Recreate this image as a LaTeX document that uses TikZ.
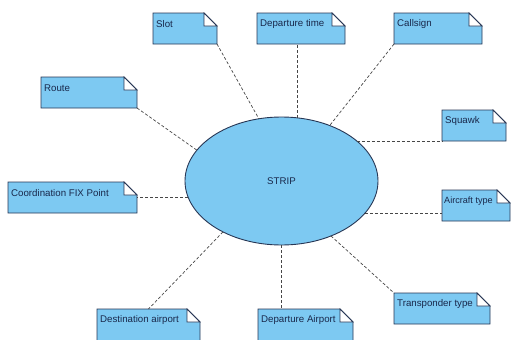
\documentclass[tikz,border=0pt]{standalone}
\usepackage{fontspec}
\setmainfont{Liberation Sans}
\usetikzlibrary{shapes.geometric,calc}
\definecolor{notefill}{RGB}{125,201,242}
\definecolor{noteline}{RGB}{40,55,85}
\definecolor{notetext}{RGB}{25,40,75}
\definecolor{linkcol}{RGB}{70,70,70}
\tikzset{
  notebox/.style={anchor=north west, inner sep=0pt, outer sep=0pt, minimum width=#1, minimum height=31pt},
  notebody/.style={fill=notefill, draw=noteline, line width=0.9pt, line join=miter},
  foldbody/.style={fill=white, draw=noteline, line width=0.8pt},
  notelabel/.style={anchor=west, inner sep=0pt, text=notetext, font=\fontsize{9.7}{11}\selectfont},
  link/.style={draw=linkcol, line width=0.7pt, dash pattern=on 3pt off 2pt},
  stripnode/.style={ellipse, fill=notefill, draw=noteline, line width=0.9pt, minimum width=193pt, minimum height=128pt, inner sep=0pt, outer sep=0pt, text=notetext, font=\fontsize{9.7}{11}\selectfont}
}
\begin{document}
\begin{tikzpicture}[x=1pt,y=-1pt]
\useasboundingbox (0,0) rectangle (512,340);
\clip (0,0) rectangle (512,340);
% note boxes (frames only)
\node[notebox=64pt]  (slot)   at (153,13)  {};
\node[notebox=88pt]  (deptime) at (257,13) {};
\node[notebox=88pt]  (callsign) at (394,13) {};
\node[notebox=96pt]  (route)  at (41,77)   {};
\node[notebox=129pt] (coord)  at (8,182)   {};
\node[notebox=64pt]  (squawk) at (442,110) {};
\node[notebox=68pt]  (actype) at (442,190) {};
\node[notebox=96pt]  (xpdr)   at (394,293) {};
\node[notebox=103pt, minimum height=40pt] (dest) at (97,309) {};
\node[notebox=95pt, minimum height=40pt]  (depap) at (258,309) {};
\foreach \n in {slot,deptime,callsign,route,coord,squawk,actype,xpdr,dest,depap}{
  \draw[notebody] (\n.north west) -- ([xshift=-13pt]\n.north east) -- ([yshift=-13pt]\n.north east) -- (\n.south east) -- (\n.south west) -- cycle;
  \draw[foldbody] ([xshift=-13pt]\n.north east) -- ([yshift=-13pt]\n.north east) -- ([xshift=-13pt,yshift=-13pt]\n.north east) -- cycle;
}
% labels
\node[notelabel] (slot-t)     at ([shift={(3pt,-11pt)}]slot.north west) {Slot};
\node[notelabel] (deptime-t)  at ([shift={(3pt,-11pt)}]deptime.north west) {Departure time};
\node[notelabel] (callsign-t) at ([shift={(3pt,-11pt)}]callsign.north west) {Callsign};
\node[notelabel] (route-t)    at ([shift={(3pt,-11pt)}]route.north west) {Route};
\node[notelabel] (coord-t)    at ([shift={(3pt,-11pt)}]coord.north west) {Coordination FIX Point};
\node[notelabel] (squawk-t)   at ([shift={(3pt,-11pt)}]squawk.north west) {Squawk};
\node[notelabel, font=\fontsize{9.1}{11}\selectfont] (actype-t) at ([shift={(2pt,-11pt)}]actype.north west) {Aircraft type};
\node[notelabel] (xpdr-t)     at ([shift={(3pt,-11pt)}]xpdr.north west) {Transponder type};
\node[notelabel] (dest-t)     at ([shift={(3pt,-11pt)}]dest.north west) {Destination airport};
\node[notelabel] (depap-t)    at ([shift={(3pt,-11pt)}]depap.north west) {Departure Airport};
% central ellipse
\node[stripnode] (strip) at (281.5,181) {STRIP};
% connectors
\draw[link] (slot.south east) -- (strip.110);
\draw[link] (strip.76) -- (strip.76 |- deptime.south);
\draw[link] (callsign.south west) -- (strip.49);
\draw[link] (route.south east) -- (strip.160);
\draw[link] (strip.190) -- (strip.190 -| coord.east);
\draw[link] (strip.28) -- (strip.28 -| squawk.west);
\draw[link] (strip.-21) -- (strip.-21 -| actype.west);
\draw[link] (strip.-48) -- (xpdr.north west);
\draw[link] (strip.south) -- (strip.south |- depap.north);
\draw[link] (strip.221) -- (dest.north);
\end{tikzpicture}
\end{document}
